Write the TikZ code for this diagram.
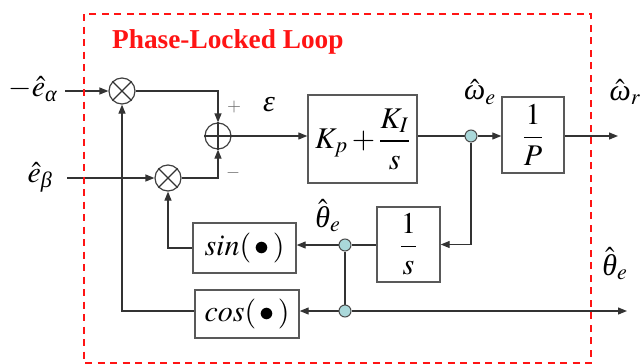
\documentclass[tikz,border=0pt]{standalone}
\usepackage{amsmath}
\usepackage[no-math]{fontspec}
\usepackage{mathptmx}
\setmainfont{Liberation Serif}
\usetikzlibrary{arrows.meta,backgrounds}
\definecolor{jfill}{RGB}{170,216,218}
\definecolor{pllred}{RGB}{255,20,20}
\newcommand\gk[1]{\text{\itshape #1}}
\tikzset{
  wire/.style={line width=1.2pt, draw=black!80},
  arr/.style={wire, -{Triangle[length=9pt,width=7pt]}},
  blk/.style={draw=black!65, line width=1.4pt, inner sep=0pt, font=\fontsize{30}{33}\selectfont},
  opc/.style={circle, draw=black!75, line width=1.2pt, minimum size=26pt, inner sep=0pt},
  jdot/.style={circle, draw=black!70, fill=jfill, line width=1pt, minimum size=12pt, inner sep=0pt},
  lbl/.style={inner sep=0pt, font=\fontsize{30}{33}\selectfont},
  sgn/.style={inner sep=0pt, text=black!60, font=\fontsize{18}{20}\selectfont}
}
\begin{document}
\begin{tikzpicture}[x=1pt,y=-1pt]
\useasboundingbox (0,0) rectangle (640,364);
% frame
\draw[pllred, line width=2.7pt, dash pattern=on 7pt off 5.5pt] (84,14) rectangle (591,363);
\node[anchor=base west, inner sep=0pt, text=pllred, font=\fontsize{27.3}{30}\selectfont\bfseries] (title) at (112,48) {Phase-Locked Loop};
% operators
\node[opc] (m1) at (122,91) {};
\node[opc] (m2) at (168,178) {};
\node[opc] (s1) at (218,136) {};
\draw[wire] (m1.north west) -- (m1.south east) (m1.north east) -- (m1.south west);
\draw[wire] (m2.north west) -- (m2.south east) (m2.north east) -- (m2.south west);
\draw[wire] (s1.north) -- (s1.south) (s1.west) -- (s1.east);
% blocks
\node[blk, minimum width=109pt, minimum height=88pt] (pi) at (362.5,139) {$K_p+\dfrac{K_I}{s}$};
\node[blk, minimum width=62pt, minimum height=76pt] (ip) at (533,135) {$\dfrac{1}{P}$};
\node[blk, minimum width=63pt, minimum height=75pt] (is) at (408.5,244.5) {$\dfrac{1}{s}$};
\node[blk, minimum width=103pt, minimum height=50pt] (sin) at (244.5,248) {$sin(\,\bullet\,)$};
\node[blk, minimum width=104pt, minimum height=48pt] (cos) at (247,314) {$cos(\,\bullet\,)$};
% junctions
\node[jdot] (jw) at (471,136) {};
\node[jdot] (jt1) at (345,245) {};
\node[jdot] (jt2) at (345,311) {};
% free ends
\coordinate (in1) at (65,91);
\coordinate (in2) at (67,178);
\coordinate (out1) at (618,136);
\coordinate (out2) at (627,311);
% labels
\node[lbl] (lea) at (33,89) {$-\hat{e}_{\gk{α}}$};
\node[lbl] (leb) at (40,177) {$\hat{e}_{\gk{β}}$};
\node[lbl] (leps) at (269,105) {$\gk{ε}$};
\node[sgn] (lplus) at (234,107) {$+$};
\node[sgn] (lminus) at (233,173) {$-$};
\node[lbl] (lwe) at (480,92) {$\hat{\gk{ω}}_e$};
\node[lbl] (lwr) at (625,92) {$\hat{\gk{ω}}_r$};
\node[lbl] (lte) at (328,216) {$\hat{\gk{θ}}_e$};
\node[lbl] (ltr) at (615,264) {$\hat{\gk{θ}}_e$};
% connectors
\begin{pgfonlayer}{background}
\draw[arr] (in1) -- (m1);
\draw[arr] (in2) -- (m2);
\draw[arr] (m1.east) -| (s1.north);
\draw[arr] (m2.east) -| (s1.south);
\draw[arr] (s1.east) -- (pi.west |- s1.east);
\draw[wire] (pi.east |- jw) -- (jw);
\draw[arr] (jw) -- (ip.west |- jw);
\draw[arr] (ip.east |- jw) -- (out1);
\draw[arr] (jw) |- (is.east);
\draw[wire] (is.west |- jt1) -- (jt1);
\draw[arr] (jt1) -- (sin.east |- jt1);
\draw[arr] (sin.west) -| (m2.south);
\draw[wire] (jt1) -- (jt2);
\draw[arr] (jt2) -- (cos.east |- jt2);
\draw[arr] (cos.west |- jt2) -| (m1.south);
\draw[arr] (jt2) -- (out2);
\end{pgfonlayer}
\end{tikzpicture}
\end{document}
